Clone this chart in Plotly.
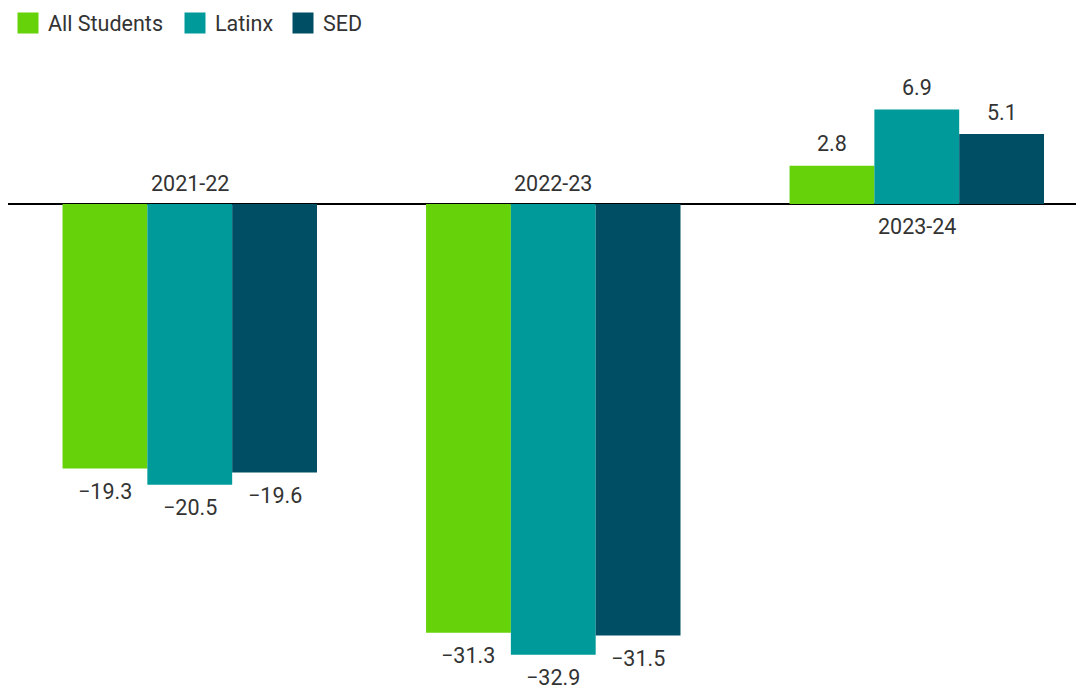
import plotly.graph_objects as go

years = ["2021-22", "2022-23", "2023-24"]
series_names = ["All Students", "Latinx", "SED"]
all_students = [-19.3, -31.3, 2.8]
latinx = [-20.5, -32.9, 6.9]
sed = [-19.6, -31.5, 5.1]
colors = ["#66d20a", "#009a9a", "#004e64"]
legend_widths = [122, 63, 45]

values = [all_students, latinx, sed]
FONT = "Roboto"
FS = 21.5
TXT = "#333333"

W, H = 1084, 686
M = dict(l=0, r=8, t=42, b=8)
XRANGE = [-0.5, 2.46]
BARGAP = 0.30

def fmt(v):
    s = f"{abs(v):.1f}"
    return ("\u2212" + s) if v < 0 else s

fig = go.Figure()
for name, vals, col, lw in zip(series_names, values, colors, legend_widths):
    fig.add_trace(go.Bar(
        x=years, y=vals, name=name, marker_color=col, marker_line_width=0,
        showlegend=False, hoverinfo="x+y",
    ))
    fig.add_trace(go.Scatter(
        x=[None], y=[None], mode="markers", name=name, legendwidth=lw,
        marker=dict(symbol="square", size=20, color=col,
                    line=dict(color=col, width=5)),
    ))

# value labels, placed relative to each bar's end
plot_w = W - M["l"] - M["r"]
cat_px = plot_w / (XRANGE[1] - XRANGE[0])
bar_px = cat_px * (1 - BARGAP) / len(series_names)
for j, vals in enumerate(values):
    for i, v in enumerate(vals):
        fig.add_annotation(
            x=years[i], y=v, text=fmt(v), showarrow=False,
            xshift=(j - (len(series_names) - 1) / 2) * bar_px,
            yshift=22 if v >= 0 else -23, yanchor="middle",
            font=dict(family=FONT, size=FS, color=TXT),
        )

for i, yr in enumerate(years):
    neg = all_students[i] < 0
    fig.add_annotation(
        x=yr, y=0, text=yr, showarrow=False, yanchor="middle",
        yshift=21 if neg else -22,
        font=dict(family=FONT, size=FS, color=TXT),
    )

fig.update_layout(
    width=W, height=H,
    margin=dict(**M, autoexpand=False),
    paper_bgcolor="white", plot_bgcolor="white",
    barmode="group", bargap=BARGAP, bargroupgap=0,
    font=dict(family=FONT, size=FS, color=TXT),
    legend=dict(orientation="h", x=0, y=0.978, xref="container", yref="container",
                xanchor="left", yanchor="middle",
                font=dict(family=FONT, size=FS, color=TXT),
                itemsizing="trace", itemwidth=30, tracegroupgap=0),
    xaxis=dict(range=XRANGE, showticklabels=False, showgrid=False,
               zeroline=False, showline=False, fixedrange=True),
    yaxis=dict(range=[-35.18, 11.24], showticklabels=False, showgrid=False,
               zeroline=True, zerolinecolor="#000000", zerolinewidth=1.5,
               showline=False),
)

fig.write_html("out.html")
